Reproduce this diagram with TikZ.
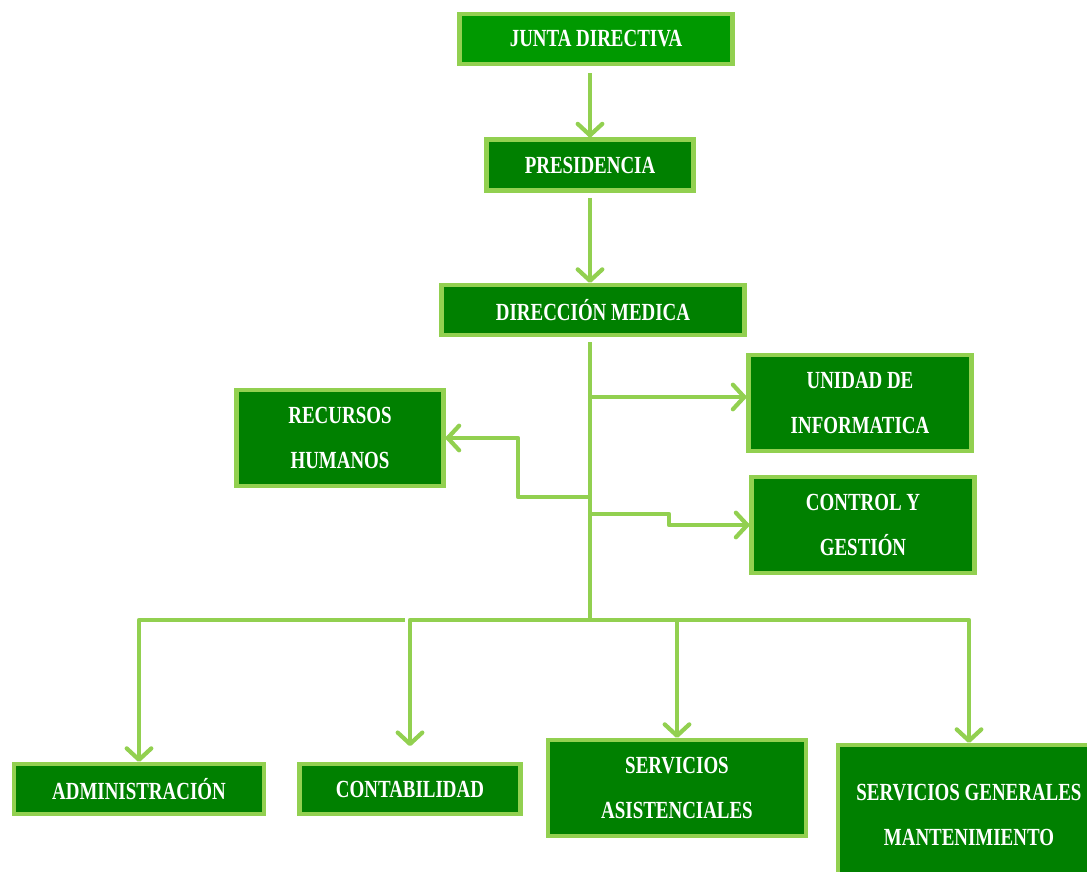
\documentclass[tikz,border=0pt]{standalone}
\usepackage{fontspec}
\newfontfamily\orgfont{Liberation Serif}[FakeStretch=0.77]
\usetikzlibrary{arrows.meta}
\definecolor{verdeclaro}{HTML}{92D050}
\definecolor{verdeoscuro}{HTML}{008000}
\definecolor{verdejunta}{HTML}{009900}

\begin{document}
\begin{tikzpicture}[x=0.02cm,y=-0.02cm,
    cargo/.style={draw=verdeclaro,line width=2.4pt,fill=verdeoscuro,text=white,
      align=center,inner sep=0pt,font=\orgfont\bfseries\fontsize{14}{25.5}\selectfont},
    ancho/.style={minimum width={#1*0.02cm}},
    alto/.style={minimum height={#1*0.02cm}},
    tramo/.style={draw=verdeclaro,line width=2.4pt,line join=round},
    enlace/.style={tramo,-{Straight Barb[length=6.5pt,width=14pt,line cap=round,line join=round]}}]
    \useasboundingbox (0,0) rectangle (1087,871);

    % niveles superiores
    \node (junta)[cargo,fill=verdejunta,ancho=273,alto=50] at (596,39) {JUNTA DIRECTIVA};
    \node (pres)[cargo,ancho=207,alto=51] at (590,165) {PRESIDENCIA};
    \node (dir)[cargo,ancho=303,alto=50] at (593,310) {DIRECCIÓN MEDICA};

    % staff
    \node (uni)[cargo,ancho=223,alto=96] at (860,403) {UNIDAD DE\\INFORMATICA};
    \node (rh)[cargo,ancho=207,alto=96] at (340,438) {RECURSOS\\HUMANOS};
    \node (cg)[cargo,ancho=223,alto=96] at (863,525) {CONTROL Y\\GESTIÓN};

    % areas
    \node (adm)[cargo,ancho=250,alto=50] at (139,789) {ADMINISTRACIÓN};
    \node (cont)[cargo,ancho=221,alto=50] at (410,789) {CONTABILIDAD};
    \node (serv)[cargo,ancho=258,alto=96] at (677,788) {SERVICIOS\\ASISTENCIALES};
    \node (gen)[cargo,ancho=262,alto=140] at (969,815) {SERVICIOS GENERALES\\MANTENIMIENTO};

    \coordinate (tUni) at (590,397);
    \coordinate (tRH) at (590,497);
    \coordinate (tCG) at (590,514);
    \coordinate (split) at (590,620);

    \draw[enlace] ([yshift=-4pt]junta.south -| pres.north) -- (pres.north);
    \draw[enlace] ([yshift=-3pt]pres.south) -- (pres.south |- dir.north);
    \draw[tramo] ([yshift=-3pt]dir.south -| split) -- (split);

    \draw[enlace] (tUni) -- (tUni -| uni.west);
    \draw[enlace] (tRH) -- ++(-72,0) |- (rh.east);
    \draw[enlace] (tCG) -- ++(79,0) |- (cg.west);

    \draw[enlace] (split) -| (gen.north);
    \draw[enlace] (split) -| (serv.north);
    \draw[enlace,shorten >=9pt] (split) -| (cont.north);
    \draw[enlace] ([xshift=-3pt]split -| cont.north) -| (adm.north);
\end{tikzpicture}
\end{document}
